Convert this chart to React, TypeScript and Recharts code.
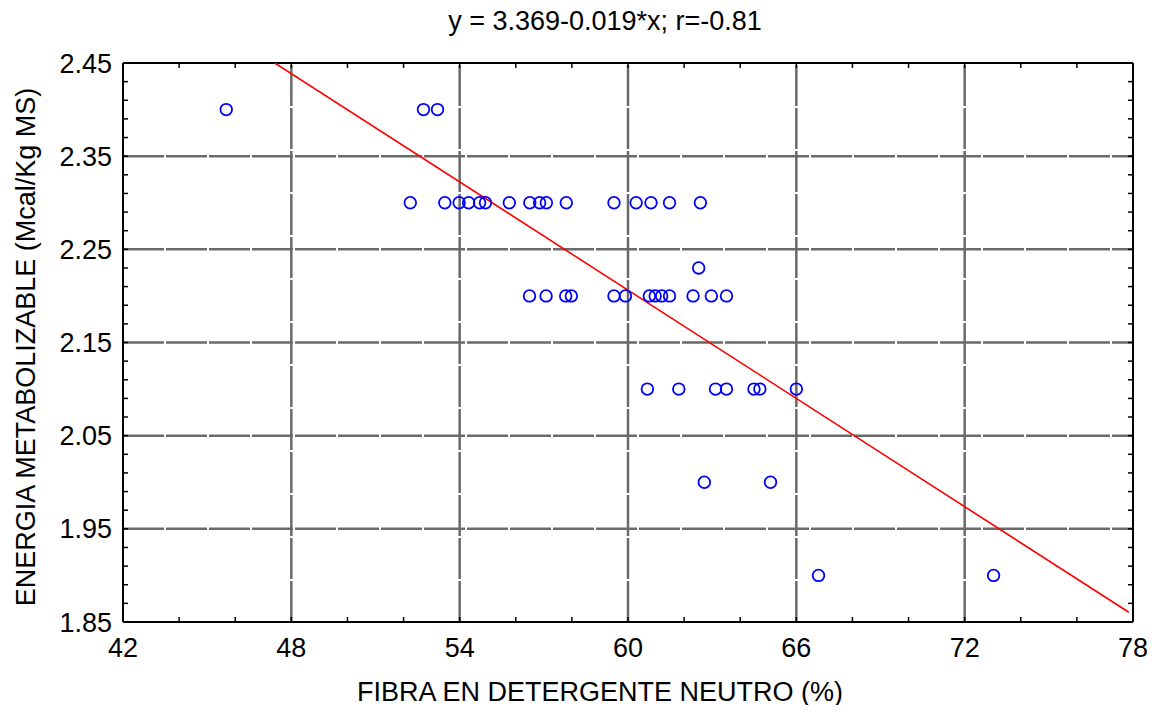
import React from 'react';
import { ScatterChart, Scatter, XAxis, YAxis, ReferenceLine } from 'recharts';

// FDN (%) per observation, grouped by energy level
const fdn240 = [45.68, 52.71, 53.21];
const fdn230 = [52.24, 53.47, 53.98, 54.32, 54.71, 54.92, 55.77, 56.5, 56.85, 57.09, 57.8, 59.5, 60.29, 60.82, 61.48, 62.58];
const fdn223 = [62.52];
const fdn220 = [56.49, 57.08, 57.78, 57.98, 59.5, 59.91, 60.76, 60.97, 61.2, 61.48, 62.32, 62.97, 63.51];
const fdn210 = [60.69, 61.81, 63.12, 63.51, 64.49, 64.7, 66.0];
const fdn200 = [62.72, 65.08];
const fdn190 = [66.79, 73.03];

const emLevels = [2.4, 2.3, 2.23, 2.2, 2.1, 2.0, 1.9];
const fdnGroups = [fdn240, fdn230, fdn223, fdn220, fdn210, fdn200, fdn190];

// fitted line end points (clipped to the plot frame)
const fitX = [47.41, 77.85];
const fitY = [2.45, 1.8605];

const xTicks = [42, 44, 46, 48, 50, 52, 54, 56, 58, 60, 62, 64, 66, 68, 70, 72, 74, 76, 78];
const xLabels = [42, 48, 54, 60, 66, 72, 78];
const yTicks = [1.85, 1.87, 1.89, 1.91, 1.93, 1.95, 1.97, 1.99, 2.01, 2.03, 2.05, 2.07, 2.09, 2.11, 2.13, 2.15, 2.17, 2.19, 2.21, 2.23, 2.25, 2.27, 2.29, 2.31, 2.33, 2.35, 2.37, 2.39, 2.41, 2.43, 2.45];
const yLabels = ['1.85', '1.95', '2.05', '2.15', '2.25', '2.35', '2.45'];
const xGrid = [48, 54, 60, 66, 72];
const yGrid = [1.95, 2.05, 2.15, 2.25, 2.35];

const points = fdnGroups.flatMap((g, i) => g.map((x) => ({ x, y: emLevels[i] })));
const fitLine = fitX.map((x, i) => ({ x, y: fitY[i] }));

const FONT = '"Liberation Sans", Arial, sans-serif';
const TICK_LEN = 5;

const BottomTick = (props: any) => {
  const { x, y, payload } = props;
  const show = xLabels.includes(payload.value);
  return (
    <g>
      <line x1={x} y1={y} x2={x} y2={y - TICK_LEN} stroke="#000" strokeWidth={1.5} />
      {show && (
        <text x={x} y={y + 35} textAnchor="middle" fontSize={27} fontFamily={FONT} fill="#000">
          {payload.value}
        </text>
      )}
    </g>
  );
};

const TopTick = (props: any) => {
  const { x, y } = props;
  return <line x1={x} y1={y} x2={x} y2={y + TICK_LEN} stroke="#000" strokeWidth={1.5} />;
};

const LeftTick = (props: any) => {
  const { x, y, payload } = props;
  const lbl = Number(payload.value).toFixed(2);
  const show = yLabels.includes(lbl);
  return (
    <g>
      <line x1={x} y1={y} x2={x + TICK_LEN} y2={y} stroke="#000" strokeWidth={1.5} />
      {show && (
        <text x={x - 11} y={y + 9.5} textAnchor="end" fontSize={27} fontFamily={FONT} fill="#000">
          {lbl}
        </text>
      )}
    </g>
  );
};

const RightTick = (props: any) => {
  const { x, y } = props;
  return <line x1={x} y1={y} x2={x - TICK_LEN} y2={y} stroke="#000" strokeWidth={1.5} />;
};

const OpenCircle = (props: any) => {
  const { cx, cy } = props;
  return <circle cx={cx} cy={cy} r={5.8} fill="none" stroke="#0000ff" strokeWidth={1.8} />;
};

const NoShape = () => null;

const axisLine = { stroke: '#000', strokeWidth: 2 };

export default function App() {
  return (
    <div style={{ position: 'relative', width: 1156, height: 713, margin: -8, background: '#fff' }}>
      <ScatterChart
        width={1156}
        height={713}
        margin={{ top: 62, right: 22, bottom: 90, left: 122 }}
      >
        <XAxis
          xAxisId="b"
          type="number"
          dataKey="x"
          domain={[42, 78]}
          ticks={xTicks}
          interval={0}
          allowDataOverflow
          height={1}
          tickSize={0}
          tickMargin={0}
          axisLine={axisLine}
          tickLine={false}
          tick={<BottomTick />}
        />
        <XAxis
          xAxisId="t"
          orientation="top"
          type="number"
          dataKey="x"
          domain={[42, 78]}
          ticks={xTicks}
          interval={0}
          allowDataOverflow
          height={1}
          tickSize={0}
          tickMargin={0}
          axisLine={axisLine}
          tickLine={false}
          tick={<TopTick />}
        />
        <YAxis
          yAxisId="l"
          type="number"
          dataKey="y"
          domain={[1.85, 2.45]}
          ticks={yTicks}
          interval={0}
          allowDataOverflow
          width={1}
          tickSize={0}
          tickMargin={0}
          axisLine={axisLine}
          tickLine={false}
          tick={<LeftTick />}
        />
        <YAxis
          yAxisId="r"
          orientation="right"
          type="number"
          dataKey="y"
          domain={[1.85, 2.45]}
          ticks={yTicks}
          interval={0}
          allowDataOverflow
          width={1}
          tickSize={0}
          tickMargin={0}
          axisLine={axisLine}
          tickLine={false}
          tick={<RightTick />}
        />
        {xGrid.map((v) => (
          <ReferenceLine key={'gx' + v} x={v} xAxisId="b" yAxisId="l" stroke="#6a6a6a" strokeWidth={2.5} strokeDasharray="41 2" />
        ))}
        {yGrid.map((v) => (
          <ReferenceLine key={'gy' + v} y={v} xAxisId="b" yAxisId="l" stroke="#6a6a6a" strokeWidth={2.5} strokeDasharray="41 2" />
        ))}
        <Scatter
          data={fitLine}
          xAxisId="b"
          yAxisId="l"
          line={{ stroke: '#ff0000', strokeWidth: 1.6 }}
          shape={<NoShape />}
          isAnimationActive={false}
        />
        <Scatter
          data={points}
          xAxisId="b"
          yAxisId="l"
          shape={<OpenCircle />}
          isAnimationActive={false}
        />
        <Scatter data={points} xAxisId="t" yAxisId="r" shape={<NoShape />} isAnimationActive={false} />
      </ScatterChart>
      <svg
        width={1156}
        height={713}
        style={{ position: 'absolute', left: 0, top: 0, pointerEvents: 'none' }}
      >
        <text x={605} y={30} textAnchor="middle" fontSize={27} fontFamily={FONT} fill="#000">
          y = 3.369-0.019*x; r=-0.81
        </text>
        <text x={600} y={701} textAnchor="middle" fontSize={27} fontFamily={FONT} fill="#000">
          FIBRA EN DETERGENTE NEUTRO (%)
        </text>
        <text
          transform="translate(35,347) rotate(-90)"
          textAnchor="middle"
          fontSize={27}
          fontFamily={FONT}
          fill="#000"
        >
          ENERGIA METABOLIZABLE (Mcal/Kg MS)
        </text>
      </svg>
    </div>
  );
}
